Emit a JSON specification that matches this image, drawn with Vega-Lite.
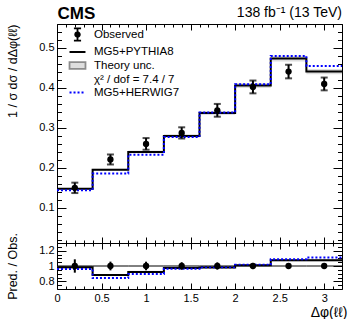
{
  "$schema": "https://vega.github.io/schema/vega-lite/v6.json",
  "padding": {"left": 6, "top": 4, "right": 8, "bottom": 0},
  "config": {
    "font": "Liberation Sans",
    "view": {"stroke": "black", "strokeWidth": 1},
    "axis": {"grid": false, "domain": false, "labelFont": "Liberation Sans", "labelFontSize": 11, "labelColor": "black", "tickColor": "black", "tickWidth": 1, "titleFont": "Liberation Sans", "titleFontWeight": "normal", "titleColor": "black", "labelFlush": false, "labelOverlap": false},
    "legend": {"labelFont": "Liberation Sans", "labelFontSize": 11.5, "labelColor": "black"}
  },
  "datasets": {
    "bins": [
      {"lo": 0.0, "hi": 0.4, "x": 0.2, "obs": 0.150, "errLo": 0.137, "errHi": 0.163, "rErrLo": 0.913, "rErrHi": 1.087, "bandLo": 0.1453, "bandHi": 0.1497, "rBandLo": 0.968, "rBandHi": 0.998},
      {"lo": 0.4, "hi": 0.8, "x": 0.6, "obs": 0.221, "errLo": 0.2085, "errHi": 0.2335, "rErrLo": 0.943, "rErrHi": 1.057, "bandLo": 0.1921, "bandHi": 0.1979, "rBandLo": 0.869, "rBandHi": 0.895},
      {"lo": 0.8, "hi": 1.2, "x": 1.0, "obs": 0.260, "errLo": 0.2454, "errHi": 0.2746, "rErrLo": 0.944, "rErrHi": 1.056, "bandLo": 0.2364, "bandHi": 0.2436, "rBandLo": 0.909, "rBandHi": 0.937},
      {"lo": 1.2, "hi": 1.6, "x": 1.4, "obs": 0.2875, "errLo": 0.2735, "errHi": 0.3015, "rErrLo": 0.951, "rErrHi": 1.049, "bandLo": 0.2758, "bandHi": 0.2842, "rBandLo": 0.959, "rBandHi": 0.989},
      {"lo": 1.6, "hi": 2.0, "x": 1.8, "obs": 0.344, "errLo": 0.328, "errHi": 0.360, "rErrLo": 0.953, "rErrHi": 1.047, "bandLo": 0.3324, "bandHi": 0.3426, "rBandLo": 0.966, "rBandHi": 0.996},
      {"lo": 2.0, "hi": 2.4, "x": 2.2, "obs": 0.4025, "errLo": 0.3865, "errHi": 0.4185, "rErrLo": 0.960, "rErrHi": 1.040, "bandLo": 0.3999, "bandHi": 0.4121, "rBandLo": 0.994, "rBandHi": 1.024},
      {"lo": 2.4, "hi": 2.8, "x": 2.6, "obs": 0.441, "errLo": 0.424, "errHi": 0.458, "rErrLo": 0.961, "rErrHi": 1.039, "bandLo": 0.4664, "bandHi": 0.4806, "rBandLo": 1.058, "rBandHi": 1.090},
      {"lo": 2.8, "hi": 3.2, "x": 3.0, "obs": 0.410, "errLo": 0.394, "errHi": 0.426, "rErrLo": 0.961, "rErrHi": 1.039, "bandLo": 0.4344, "bandHi": 0.4476, "rBandLo": 1.060, "rBandHi": 1.092}
    ],
    "steps": [
      {"edge": 0.0, "py": 0.1475, "hw": 0.144, "rpy": 0.983, "rhw": 0.960},
      {"edge": 0.4, "py": 0.195, "hw": 0.186, "rpy": 0.882, "rhw": 0.842},
      {"edge": 0.8, "py": 0.240, "hw": 0.233, "rpy": 0.923, "rhw": 0.896},
      {"edge": 1.2, "py": 0.280, "hw": 0.2775, "rpy": 0.974, "rhw": 0.965},
      {"edge": 1.6, "py": 0.3375, "hw": 0.3385, "rpy": 0.981, "rhw": 0.984},
      {"edge": 2.0, "py": 0.406, "hw": 0.409, "rpy": 1.009, "rhw": 1.016},
      {"edge": 2.4, "py": 0.4735, "hw": 0.480, "rpy": 1.074, "rhw": 1.088},
      {"edge": 2.8, "py": 0.441, "hw": 0.455, "rpy": 1.076, "rhw": 1.110},
      {"edge": 3.2, "py": 0.441, "hw": 0.455, "rpy": 1.076, "rhw": 1.110}
    ]
  },
  "spacing": 0,
  "bounds": "flush",
  "resolve": {
    "scale": {"fill": "independent", "stroke": "independent", "strokeDash": "independent", "shape": "independent"},
    "legend": {"fill": "independent", "stroke": "independent", "strokeDash": "independent", "shape": "independent"}
  },
  "vconcat": [
    {
      "width": 285,
      "height": 219,
      "title": {"text": "138 fb⁻¹ (13 TeV)", "anchor": "end", "frame": "group", "fontSize": 14, "fontWeight": "normal", "font": "Liberation Sans", "offset": -15},
      "resolve": {"axis": {"x": "independent", "y": "independent"}},
      "layer": [
        {
          "data": {"name": "bins"},
          "mark": {"type": "rect", "strokeWidth": 0},
          "encoding": {
            "x": {"field": "lo", "type": "quantitative", "scale": {"domain": [0, 3.2], "nice": false, "zero": false},
              "axis": {"orient": "bottom", "labels": false, "title": null,
                "values": [0,0.1,0.2,0.3,0.4,0.5,0.6,0.7,0.8,0.9,1,1.1,1.2,1.3,1.4,1.5,1.6,1.7,1.8,1.9,2,2.1,2.2,2.3,2.4,2.5,2.6,2.7,2.8,2.9,3,3.1,3.2],
                "tickSize": {"condition": {"test": "abs(datum.value*2-round(datum.value*2))<0.001", "value": -6}, "value": -3}}},
            "x2": {"field": "hi"},
            "y": {"field": "bandLo", "type": "quantitative", "scale": {"domain": [0.012, 0.56], "nice": false, "zero": false},
              "axis": {"orient": "left", "title": "1 / σ dσ / dΔφ(ℓℓ)", "titleAnchor": "end", "titleFontSize": 12.5, "titlePadding": 19,
                "values": [0.02,0.04,0.06,0.08,0.1,0.12,0.14,0.16,0.18,0.2,0.22,0.24,0.26,0.28,0.3,0.32,0.34,0.36,0.38,0.4,0.42,0.44,0.46,0.48,0.5,0.52,0.54,0.56],
                "labelExpr": "abs(datum.value*10-round(datum.value*10))<0.001 ? format(datum.value,'.1f') : ''",
                "labelPadding": 12,
                "tickSize": {"condition": {"test": "abs(datum.value*10-round(datum.value*10))<0.001", "value": -9}, "value": -4.5}}},
            "y2": {"field": "bandHi"},
            "fill": {"datum": "Theory unc.",
              "scale": {"domain": ["Observed", "MG5+PYTHIA8", "Theory unc.", "χ² / dof = 7.4 / 7", "MG5+HERWIG7"], "range": ["black", "transparent", "#dedede", "transparent", "transparent"]},
              "legend": {"title": null, "orient": "none", "legendX": 14, "legendY": 4, "symbolSize": 121, "symbolStrokeWidth": 1.8, "labelOffset": 10, "rowPadding": 0.5, "padding": 0}}
          }
        },
        {
          "data": {"name": "steps"},
          "mark": {"type": "line", "interpolate": "step-after", "strokeWidth": 2},
          "encoding": {
            "x": {"field": "edge", "type": "quantitative", "scale": {"domain": [0, 3.2], "nice": false, "zero": false},
              "axis": {"orient": "top", "labels": false, "title": "CMS", "titleAnchor": "start", "titleFontSize": 17, "titleFontWeight": "bold", "titleBaseline": "alphabetic", "titlePadding": 5,
                "values": [0,0.1,0.2,0.3,0.4,0.5,0.6,0.7,0.8,0.9,1,1.1,1.2,1.3,1.4,1.5,1.6,1.7,1.8,1.9,2,2.1,2.2,2.3,2.4,2.5,2.6,2.7,2.8,2.9,3,3.1,3.2],
                "tickSize": {"condition": {"test": "abs(datum.value*2-round(datum.value*2))<0.001", "value": -6}, "value": -3}}},
            "y": {"field": "py", "type": "quantitative", "scale": {"domain": [0.012, 0.56], "nice": false, "zero": false},
              "axis": {"orient": "right", "labels": false, "title": null,
                "values": [0.02,0.04,0.06,0.08,0.1,0.12,0.14,0.16,0.18,0.2,0.22,0.24,0.26,0.28,0.3,0.32,0.34,0.36,0.38,0.4,0.42,0.44,0.46,0.48,0.5,0.52,0.54,0.56],
                "tickSize": {"condition": {"test": "abs(datum.value*10-round(datum.value*10))<0.001", "value": -9}, "value": -4.5}}},
            "stroke": {"datum": "MG5+PYTHIA8",
              "scale": {"domain": ["Observed", "MG5+PYTHIA8", "Theory unc.", "χ² / dof = 7.4 / 7", "MG5+HERWIG7"], "range": ["black", "black", "#8c8c8c", "transparent", "#0000ff"]},
              "legend": {"title": null, "orient": "none", "legendX": 14, "legendY": 4, "symbolSize": 121, "symbolStrokeWidth": 1.8, "labelOffset": 10, "rowPadding": 0.5, "padding": 0}},
            "strokeDash": {"datum": "MG5+PYTHIA8",
              "scale": {"domain": ["Observed", "MG5+PYTHIA8", "Theory unc.", "χ² / dof = 7.4 / 7", "MG5+HERWIG7"], "range": [[1, 0], [1, 0], [1, 0], [1, 0], [2, 2]]},
              "legend": {"title": null, "orient": "none", "legendX": 14, "legendY": 4, "symbolSize": 121, "symbolStrokeWidth": 1.8, "labelOffset": 10, "rowPadding": 0.5, "padding": 0}}
          }
        },
        {
          "data": {"name": "steps"},
          "mark": {"type": "line", "interpolate": "step-after", "strokeWidth": 2},
          "encoding": {
            "x": {"field": "edge", "type": "quantitative", "axis": null},
            "y": {"field": "hw", "type": "quantitative", "axis": null},
            "stroke": {"datum": "MG5+HERWIG7"},
            "strokeDash": {"datum": "MG5+HERWIG7"}
          }
        },
        {
          "data": {"name": "bins"},
          "mark": {"type": "rule", "strokeWidth": 2, "color": "black"},
          "encoding": {
            "x": {"field": "x", "type": "quantitative", "axis": null},
            "y": {"field": "errLo", "type": "quantitative", "axis": null},
            "y2": {"field": "errHi"}
          }
        },
        {
          "data": {"name": "bins"},
          "mark": {"type": "tick", "orient": "horizontal", "size": 7, "thickness": 2, "color": "black"},
          "encoding": {
            "x": {"field": "x", "type": "quantitative", "axis": null},
            "y": {"field": "errLo", "type": "quantitative", "axis": null}
          }
        },
        {
          "data": {"name": "bins"},
          "mark": {"type": "tick", "orient": "horizontal", "size": 7, "thickness": 2, "color": "black"},
          "encoding": {
            "x": {"field": "x", "type": "quantitative", "axis": null},
            "y": {"field": "errHi", "type": "quantitative", "axis": null}
          }
        },
        {
          "data": {"name": "bins"},
          "mark": {"type": "circle", "size": 40, "opacity": 1},
          "encoding": {
            "x": {"field": "x", "type": "quantitative", "axis": null},
            "y": {"field": "obs", "type": "quantitative", "axis": null},
            "fill": {"datum": "Observed"}
          }
        },
        {
          "data": {"name": "bins"},
          "mark": {"type": "point", "size": 0, "filled": true},
          "encoding": {
            "x": {"field": "x", "type": "quantitative", "axis": null},
            "y": {"field": "obs", "type": "quantitative", "axis": null},
            "shape": {"datum": "Observed",
              "scale": {"domain": ["Observed", "MG5+PYTHIA8", "Theory unc.", "χ² / dof = 7.4 / 7", "MG5+HERWIG7"],
                "range": ["M0,-1.1L0,1.1M-0.65,-1.1L0.65,-1.1M-0.65,1.1L0.65,1.1M0.42,0A0.42,0.42,0,1,1,-0.42,0A0.42,0.42,0,1,1,0.42,0Z", "M-1.45,0L1.45,0", "M-1.45,-0.6L1.45,-0.6L1.45,0.6L-1.45,0.6Z", "M0,0", "M-1.45,0L1.45,0"]},
              "legend": {"title": null, "orient": "none", "legendX": 14, "legendY": 4, "symbolSize": 121, "symbolStrokeWidth": 1.8, "labelOffset": 10, "rowPadding": 0.5, "padding": 0}}
          }
        }
      ]
    },
    {
      "width": 285,
      "height": 46,
      "resolve": {"axis": {"x": "independent", "y": "independent"}},
      "layer": [
        {
          "data": {"name": "bins"},
          "mark": {"type": "rect", "strokeWidth": 0, "fill": "#dedede"},
          "encoding": {
            "x": {"field": "lo", "type": "quantitative", "scale": {"domain": [0, 3.2], "nice": false, "zero": false},
              "axis": {"orient": "bottom", "title": "Δφ(ℓℓ)", "titleAnchor": "end", "titleAlign": "right", "titleX": 290, "titleFontSize": 14, "titlePadding": -1,
                "values": [0,0.1,0.2,0.3,0.4,0.5,0.6,0.7,0.8,0.9,1,1.1,1.2,1.3,1.4,1.5,1.6,1.7,1.8,1.9,2,2.1,2.2,2.3,2.4,2.5,2.6,2.7,2.8,2.9,3,3.1,3.2],
                "labelExpr": "abs(datum.value*2-round(datum.value*2))<0.001 ? format(datum.value,'~g') : ''",
                "labelPadding": 9,
                "tickSize": {"condition": {"test": "abs(datum.value*2-round(datum.value*2))<0.001", "value": -6}, "value": -3}}},
            "x2": {"field": "hi"},
            "y": {"field": "rBandLo", "type": "quantitative", "scale": {"domain": [0.7, 1.3], "nice": false, "zero": false},
              "axis": {"orient": "left", "title": "Pred. / Obs.", "titleFontSize": 12.5, "titlePadding": 19,
                "values": [0.75,0.8,0.85,0.9,0.95,1,1.05,1.1,1.15,1.2,1.25],
                "labelExpr": "abs(datum.value*5-round(datum.value*5))<0.001 ? format(datum.value,'~g') : ''",
                "labelPadding": 12,
                "tickSize": {"condition": {"test": "abs(datum.value*5-round(datum.value*5))<0.001", "value": -9}, "value": -4.5}}},
            "y2": {"field": "rBandHi"}
          }
        },
        {
          "data": {"name": "steps"},
          "mark": {"type": "line", "interpolate": "step-after", "strokeWidth": 2, "color": "black"},
          "encoding": {
            "x": {"field": "edge", "type": "quantitative", "scale": {"domain": [0, 3.2], "nice": false, "zero": false},
              "axis": {"orient": "top", "labels": false, "title": null,
                "values": [0,0.1,0.2,0.3,0.4,0.5,0.6,0.7,0.8,0.9,1,1.1,1.2,1.3,1.4,1.5,1.6,1.7,1.8,1.9,2,2.1,2.2,2.3,2.4,2.5,2.6,2.7,2.8,2.9,3,3.1,3.2],
                "tickSize": {"condition": {"test": "abs(datum.value*2-round(datum.value*2))<0.001", "value": -6}, "value": -3}}},
            "y": {"field": "rpy", "type": "quantitative", "scale": {"domain": [0.7, 1.3], "nice": false, "zero": false},
              "axis": {"orient": "right", "labels": false, "title": null,
                "values": [0.75,0.8,0.85,0.9,0.95,1,1.05,1.1,1.15,1.2,1.25],
                "tickSize": {"condition": {"test": "abs(datum.value*5-round(datum.value*5))<0.001", "value": -9}, "value": -4.5}}}
          }
        },
        {
          "data": {"name": "steps"},
          "mark": {"type": "line", "interpolate": "step-after", "strokeWidth": 2, "color": "#0000ff", "strokeDash": [2, 2]},
          "encoding": {
            "x": {"field": "edge", "type": "quantitative", "axis": null},
            "y": {"field": "rhw", "type": "quantitative", "axis": null}
          }
        },
        {
          "data": {"name": "bins"},
          "mark": {"type": "rule", "strokeWidth": 1, "color": "black"},
          "encoding": {
            "x": {"field": "lo", "type": "quantitative", "axis": null},
            "x2": {"field": "hi"},
            "y": {"datum": 1, "type": "quantitative", "axis": null}
          }
        },
        {
          "data": {"name": "bins"},
          "mark": {"type": "rule", "strokeWidth": 2, "color": "black"},
          "encoding": {
            "x": {"field": "x", "type": "quantitative", "axis": null},
            "y": {"field": "rErrLo", "type": "quantitative", "axis": null},
            "y2": {"field": "rErrHi"}
          }
        },
        {
          "data": {"name": "bins"},
          "mark": {"type": "circle", "size": 40, "opacity": 1, "color": "black"},
          "encoding": {
            "x": {"field": "x", "type": "quantitative", "axis": null},
            "y": {"datum": 1, "type": "quantitative", "axis": null}
          }
        }
      ]
    }
  ]
}
